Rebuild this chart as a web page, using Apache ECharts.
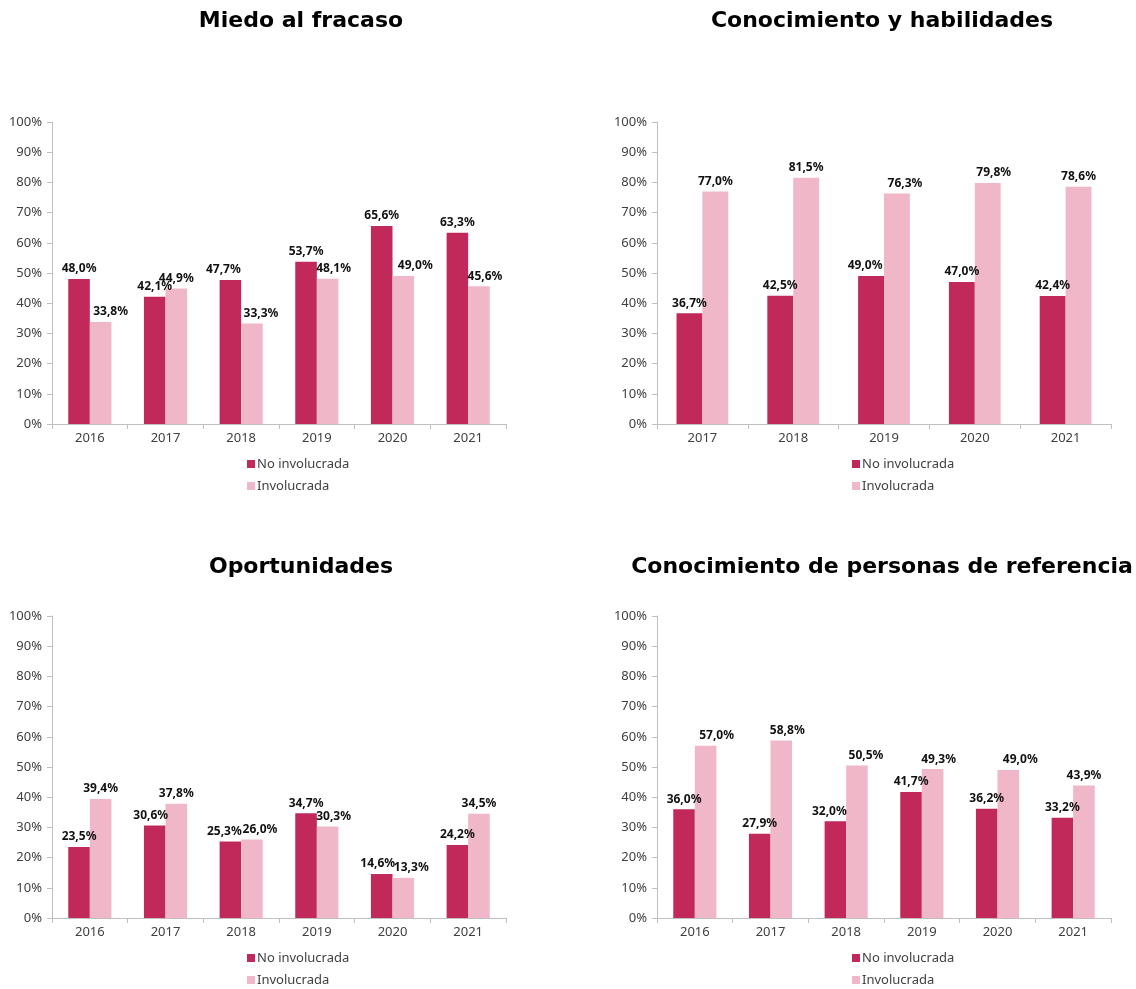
<!DOCTYPE html>
<html>
<head>
<meta charset="utf-8">
<script src="https://cdn.jsdelivr.net/npm/echarts@6/dist/echarts.min.js"></script>
<style>
html,body{margin:0;padding:0;background:#fff;}
#c{width:1136px;height:989px;}
</style>
</head>
<body>
<div id="c"></div>
<script>
// ---- Data ----
const seriesNames = ['No involucrada', 'Involucrada'];

const titles = ['Miedo al fracaso', 'Conocimiento y habilidades', 'Oportunidades', 'Conocimiento de personas de referencia'];

const catsMiedo = ['2016', '2017', '2018', '2019', '2020', '2021'];
const miedoNo = [48.0, 42.1, 47.7, 53.7, 65.6, 63.3];
const miedoSi = [33.8, 44.9, 33.3, 48.1, 49.0, 45.6];

const catsConoc = ['2017', '2018', '2019', '2020', '2021'];
const conocNo = [36.7, 42.5, 49.0, 47.0, 42.4];
const conocSi = [77.0, 81.5, 76.3, 79.8, 78.6];

const catsOport = ['2016', '2017', '2018', '2019', '2020', '2021'];
const oportNo = [23.5, 30.6, 25.3, 34.7, 14.6, 24.2];
const oportSi = [39.4, 37.8, 26.0, 30.3, 13.3, 34.5];

const catsRef = ['2016', '2017', '2018', '2019', '2020', '2021'];
const refNo = [36.0, 27.9, 32.0, 41.7, 36.2, 33.2];
const refSi = [57.0, 58.8, 50.5, 49.3, 49.0, 43.9];

const yTicks = [0, 10, 20, 30, 40, 50, 60, 70, 80, 90, 100];

// ---- Styling / layout ----
const C_DARK = '#C0295A';
const C_LIGHT = '#F0B7C8';
const AXIS_C = '#BFBFBF';
const TXT_C = '#404040';
const FONT = '"Noto Sans", sans-serif';

// horizontal label nudges (px) mimicking the manual label placement of the original
const panels = [
  {cats: catsMiedo, a: miedoNo, b: miedoSi, left: 52, top: 122, cx: 296, ty: 5, legTop: 457, legLeft: 247,
   nudgeA: [0, 0, -7, 0, 0, 0], nudgeB: [10, 0, 9, 6, 12, 6]},
  {cats: catsConoc, a: conocNo, b: conocSi, left: 657, top: 122, cx: 877, ty: 5, legTop: 457, legLeft: 852,
   nudgeA: [0, 0, -6, 0, 0], nudgeB: [0, 0, 8, 6, 0]},
  {cats: catsOport, a: oportNo, b: oportSi, left: 52, top: 616, cx: 296, ty: 551, legTop: 951, legLeft: 247,
   nudgeA: [0, -4, -6, 0, -4, 0], nudgeB: [0, 0, 8, 6, 8, 0]},
  {cats: catsRef, a: refNo, b: refSi, left: 657, top: 616, cx: 877, ty: 551, legTop: 951, legLeft: 852,
   nudgeA: [0, 0, -6, 0, 0, 0], nudgeB: [11, 6, 9, 6, 12, 0]}
];

const fmt = v => v.toFixed(1).replace('.', ',') + '%';

const option = {
  animation: false,
  backgroundColor: '#fff',
  title: [], grid: [], xAxis: [], yAxis: [], series: [], legend: []
};

const mkData = (vals, nudges) => vals.map((v, k) => ({
  value: v,
  label: nudges[k] ? {offset: [nudges[k], 0]} : undefined
}));

panels.forEach((p, i) => {
  option.title.push({
    text: titles[i], left: p.cx, top: p.ty, textAlign: 'center',
    textStyle: {fontFamily: '"DejaVu Sans", sans-serif', fontWeight: 'bold', fontSize: 22, color: '#000'}
  });
  option.grid.push({left: p.left, top: p.top, width: 454, height: 302, containLabel: false});
  option.xAxis.push({
    type: 'category', gridIndex: i, data: p.cats,
    axisLine: {lineStyle: {color: AXIS_C, width: 1}},
    axisTick: {show: true, length: 5, lineStyle: {color: AXIS_C}},
    axisLabel: {color: TXT_C, fontSize: 13, fontFamily: FONT, margin: 8}
  });
  option.yAxis.push({
    type: 'value', gridIndex: i, min: yTicks[0], max: yTicks[yTicks.length - 1], interval: 10,
    axisLine: {show: true, lineStyle: {color: AXIS_C, width: 1}},
    axisTick: {show: true, length: 5, lineStyle: {color: AXIS_C}},
    splitLine: {show: false},
    axisLabel: {color: TXT_C, fontSize: 13, fontFamily: FONT, margin: 10, formatter: v => v + '%'}
  });
  const lbl = {
    show: true, position: 'top', distance: 4, color: '#111', fontSize: 12, fontWeight: 'bold',
    fontFamily: FONT, formatter: d => fmt(d.value)
  };
  option.series.push({
    name: seriesNames[0], type: 'bar', xAxisIndex: i, yAxisIndex: i, data: mkData(p.a, p.nudgeA),
    itemStyle: {color: C_DARK}, barGap: '0%', barCategoryGap: '43%', label: lbl
  });
  option.series.push({
    name: seriesNames[1], type: 'bar', xAxisIndex: i, yAxisIndex: i, data: mkData(p.b, p.nudgeB),
    itemStyle: {color: C_LIGHT}, barGap: '0%', barCategoryGap: '43%', label: lbl
  });
  option.legend.push({
    data: seriesNames, orient: 'vertical', left: p.legLeft, top: p.legTop, padding: 0,
    icon: 'rect', itemWidth: 8, itemHeight: 8, itemGap: 8,
    textStyle: {color: TXT_C, fontSize: 13, lineHeight: 14, fontFamily: FONT, padding: [0, 0, 0, -3]}
  });
});

const chart = echarts.init(document.getElementById('c'), null, {renderer: 'canvas'});
chart.setOption(option);
</script>
</body>
</html>
